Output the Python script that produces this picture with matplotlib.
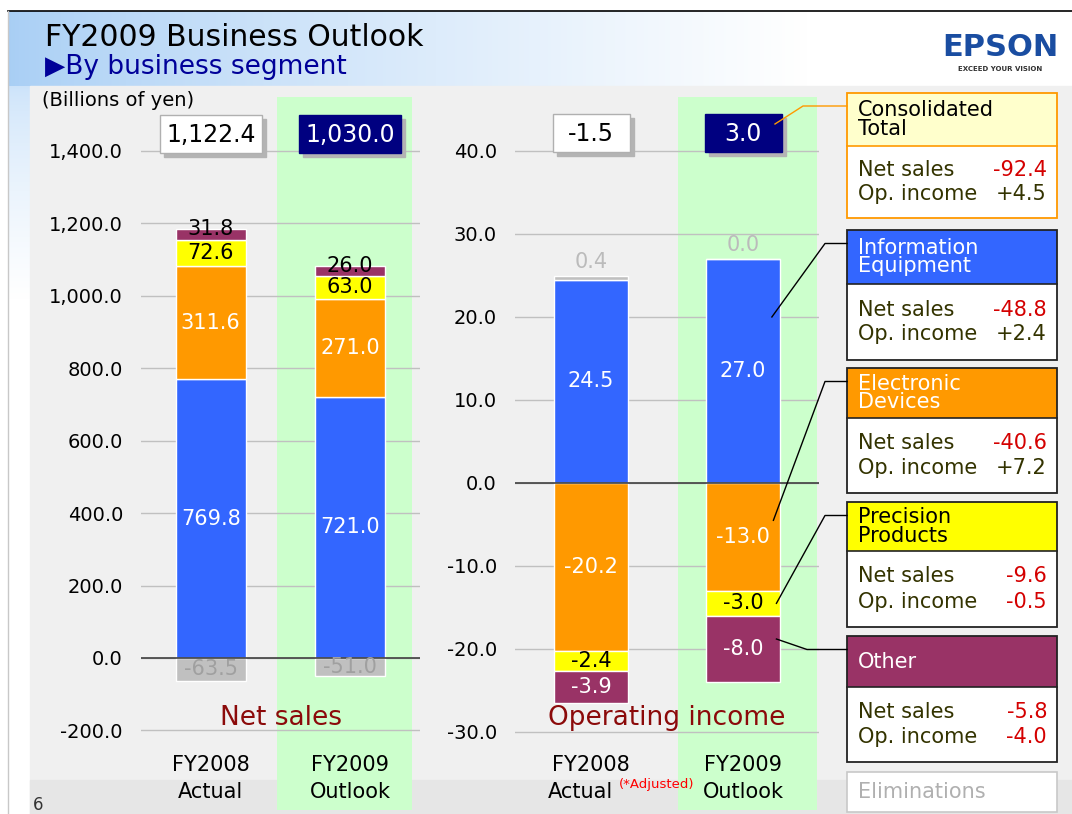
import numpy as np
import matplotlib
matplotlib.use('Agg')
import matplotlib.pyplot as plt
import matplotlib.transforms as mtransforms
from matplotlib.patches import Rectangle
from matplotlib.ticker import FuncFormatter

# Figure size in pixels
W, H = 1072, 814

# Data (billions of yen)
periods = [("FY2008", "Actual"), ("FY2009", "Outlook")]
segments = ["Information Equipment", "Electronic Devices", "Precision Products", "Other", "Eliminations"]

sales_info = [769.8, 721.0]
sales_elec = [311.6, 271.0]
sales_prec = [72.6, 63.0]
sales_other = [31.8, 26.0]
sales_elim = [-63.5, -51.0]
sales_total = [1122.4, 1030.0]

op_info = [24.5, 27.0]
op_elec = [-20.2, -13.0]
op_prec = [-2.4, -3.0]
op_other = [-3.9, -8.0]
op_elim = [0.4, 0.0]
op_total = [-1.5, 3.0]

sales_ticks = [-200, 0, 200, 400, 600, 800, 1000, 1200, 1400]
op_ticks = [-30, -20, -10, 0, 10, 20, 30, 40]

# Change vs previous year, shown in the right-hand panel
panel_names = ["Consolidated\nTotal", "Information\nEquipment", "Electronic\nDevices",
               "Precision\nProducts", "Other"]
panel_sales = [-92.4, -48.8, -40.6, -9.6, -5.8]
panel_op = [4.5, 2.4, 7.2, -0.5, -4.0]

# Styles
SEG_COLORS = ['#3366FF', '#FF9900', '#FFFF00', '#993366', '#C0C0C0']
LABEL_COLORS = ['white', 'white', 'black', 'white', '#A0A0A0']
HEADER_COLORS = ['#FFFFCC', '#3366FF', '#FF9900', '#FFFF00', '#993366']
HEADER_TEXT = ['black', 'white', 'white', 'black', 'white']
BORDER_COLORS = ['#FF9900', '#222222', '#222222', '#222222', '#222222']
GREEN_BAND = '#CCFFCC'
NAVY = '#000080'
DARK_RED = '#8B0A0A'
BODY_TEXT = '#333300'

fig = plt.figure(figsize=(W / 100, H / 100), dpi=100)

# Background layer in pixel coordinates
bg = fig.add_axes([0, 0, 1, 1], zorder=0)
bg.set_xlim(0, W)
bg.set_ylim(H, 0)
bg.axis('off')

t = np.clip(np.linspace(0, 1, 400) / 0.75, 0, 1) ** 0.8
left_c = np.array([0.66, 0.81, 0.96])
grad = left_c[None, :] + (1 - left_c[None, :]) * t[:, None]
bg.imshow(grad[None, :, :], extent=(8, W, 86, 11), aspect='auto', zorder=0)
v = np.linspace(0, 1, 100) ** 0.7
vgrad = np.array([0.80, 0.89, 0.98])[None, :] + (1 - np.array([0.80, 0.89, 0.98]))[None, :] * v[:, None]
bg.imshow(vgrad[:, None, :], extent=(8, 30, 300, 86), aspect='auto', zorder=0)
bg.add_patch(Rectangle((30, 86), W - 30, H - 86, color='#F0F0F0', zorder=1))
bg.add_patch(Rectangle((30, 780), W - 30, H - 780, color='#E6E6E6', zorder=1))
bg.plot([8, W], [11, 11], color='black', lw=1.2, zorder=2)
bg.plot([8, 8], [11, H], color='#C8C8C8', lw=1, zorder=2)

bg.text(45, 38, "FY2009 Business Outlook", fontsize=21.5, va='center', ha='left', color='black', zorder=3)
bg.text(45, 67, "\u25B6By business segment", fontsize=19, va='center', ha='left', color='#000099', zorder=3)
bg.text(42, 100, "(Billions of yen)", fontsize=14, va='center', ha='left', color='black', zorder=3)
bg.text(33, 796, "6", fontsize=12, va='top', ha='left', color='#333333', zorder=3)

# EPSON logo
bg.text(1000, 48, "EPSON", fontsize=22, fontweight='heavy', color='#1A4DA1', ha='center', va='center', zorder=3)
bg.text(1000, 69, "EXCEED YOUR VISION", fontsize=5, fontweight='bold', color='#333333', ha='center', va='center', zorder=3)


def make_chart(rect, ylim, ticks, fmt, band):
    ax = fig.add_axes([rect[0] / W, 1 - rect[3] / H, (rect[2] - rect[0]) / W, (rect[3] - rect[1]) / H], zorder=1)
    ax.set_facecolor('none')
    ax.set_xlim(-0.5, 1.5)
    ax.set_ylim(*ylim)
    ax.set_yticks(ticks)
    ax.yaxis.set_major_formatter(FuncFormatter(fmt))
    ax.set_xticks([])
    ax.tick_params(axis='y', length=0, pad=13, labelsize=14, colors='black')
    for s in ax.spines.values():
        s.set_visible(False)
    ax.yaxis.grid(True, color='#C0C0C0', lw=1, zorder=0.5)
    ax.set_axisbelow(True)
    ax.axvspan(band[0], band[1], color=GREEN_BAND, zorder=0.2, lw=0)
    ax.axhline(0, color='#404040', lw=1.2, zorder=3)
    return ax


def draw_stack(ax, series, width):
    x = np.arange(len(periods))
    pos = np.zeros(len(x))
    neg = np.zeros(len(x))
    for i, vals in enumerate(series):
        vals = np.array(vals, dtype=float)
        bottom = np.where(vals >= 0, pos, neg)
        ax.bar(x, vals, width=width, bottom=bottom, color=SEG_COLORS[i],
               edgecolor='white', lw=1, zorder=2)
        for j, val in enumerate(vals):
            top = bottom[j] + val
            ph = abs(ax.transData.transform((0, val))[1] - ax.transData.transform((0, 0))[1])
            txt = f"{val:.1f}"
            if i == 4 and ph < 12:
                ax.annotate(txt, (x[j], top), xytext=(0, 3), textcoords='offset points',
                            ha='center', va='bottom', fontsize=15, color='#BBBBBB', zorder=4)
            elif ph < 14:
                ax.text(x[j], top, txt, ha='center', va='center', fontsize=15, color='black', zorder=4)
            else:
                ax.text(x[j], bottom[j] + val / 2, txt, ha='center', va='center', fontsize=15,
                        color=LABEL_COLORS[i], zorder=4)
        pos = np.where(vals >= 0, pos + vals, pos)
        neg = np.where(vals < 0, neg + vals, neg)


def period_labels(ax, title, shift=(0, 0)):
    trans = mtransforms.blended_transform_factory(ax.transData, ax.transAxes)
    for j, (yr, kind) in enumerate(periods):
        ax.text(j, 0.063, yr, transform=trans, ha='center', va='center', fontsize=15,
                color='black', zorder=4)
        ax.text(j + shift[j], 0.025, kind, transform=trans, ha='center', va='center', fontsize=15,
                color='black', zorder=4)
    ax.text(0.5, 0.129, title, transform=ax.transAxes, ha='center', va='center',
            fontsize=19, color=DARK_RED, zorder=4)


# Net sales chart
ax1 = make_chart((141, 97, 420, 810), (-419.7, 1549.0), sales_ticks,
                 lambda v, p: f"{v:,.1f}", (0.475, 1.446))
draw_stack(ax1, [sales_info, sales_elec, sales_prec, sales_other, sales_elim], 0.5)
period_labels(ax1, "Net sales")

# Operating income chart
ax2 = make_chart((515, 97, 819, 810), (-39.4, 46.5), op_ticks,
                 lambda v, p: f"{v:.1f}", (0.572, 1.49))
draw_stack(ax2, [op_info, op_elec, op_prec, op_other, op_elim], 0.49)
period_labels(ax2, "Operating income", shift=(-0.07, 0))
trans2 = mtransforms.blended_transform_factory(ax2.transData, ax2.transAxes)
ax2.text(0.185, 0.036, "(*Adjusted)", transform=trans2, ha='left', va='center',
         fontsize=9.5, color='#FF0000', zorder=4)

# Overlay layer in pixel coordinates
ov = fig.add_axes([0, 0, 1, 1], zorder=3)
ov.set_facecolor('none')
ov.set_xlim(0, W)
ov.set_ylim(H, 0)
ov.axis('off')


def to_px(ax, x, y):
    px, py = ax.transData.transform((x, y))
    return px, H - py


def total_box(ax, xpos, value, y, w, dark, fmt):
    px, _ = to_px(ax, xpos, 0)
    h = 38
    ov.add_patch(Rectangle((px - w / 2 + 4, y - h / 2 + 4), w, h, color='#B4B4B4', zorder=1))
    ov.add_patch(Rectangle((px - w / 2, y - h / 2), w, h, facecolor=NAVY if dark else 'white',
                           edgecolor=NAVY if dark else '#B0B0B0', lw=1, zorder=2))
    ov.text(px, y + 1, fmt(value), ha='center', va='center', fontsize=17,
            color='white' if dark else 'black', zorder=3)
    return px


for j, val in enumerate(sales_total):
    total_box(ax1, j, val, 134, 102, j == 1, lambda v: f"{v:,.1f}")
box_r = [total_box(ax2, j, val, 133, 77, j == 1, lambda v: f"{v:.1f}") for j, val in enumerate(op_total)]

# Right-hand panel of changes
BX0, BX1 = 847, 1057
tops = [93, 230, 368, 502, 636]
heads = [146, 284, 418, 551, 687]
bottoms = [218, 360, 493, 627, 762]
for k, name in enumerate(panel_names):
    ov.add_patch(Rectangle((BX0, tops[k]), BX1 - BX0, heads[k] - tops[k],
                           facecolor=HEADER_COLORS[k], edgecolor='none', zorder=1))
    ov.add_patch(Rectangle((BX0, heads[k]), BX1 - BX0, bottoms[k] - heads[k],
                           facecolor='white', edgecolor='none', zorder=1))
    ov.add_patch(Rectangle((BX0, tops[k]), BX1 - BX0, bottoms[k] - tops[k],
                           facecolor='none', edgecolor=BORDER_COLORS[k], lw=1.3, zorder=2))
    ov.plot([BX0, BX1], [heads[k], heads[k]], color=BORDER_COLORS[k], lw=1.2, zorder=2)
    ov.text(858, (tops[k] + heads[k]) / 2, name, ha='left', va='center', fontsize=15,
            linespacing=0.92, color=HEADER_TEXT[k], zorder=3)
    mid = (heads[k] + bottoms[k]) / 2
    for row, (lab, val) in enumerate([("Net sales", panel_sales[k]), ("Op. income", panel_op[k])]):
        yy = mid - 12.5 + 25 * row
        ov.text(858, yy, lab, ha='left', va='center', fontsize=15, color=BODY_TEXT, zorder=3)
        ov.text(1047, yy, f"{val:+.1f}", ha='right', va='center', fontsize=15,
                color='#D40000' if val < 0 else BODY_TEXT, zorder=3)

ov.add_patch(Rectangle((BX0, 772), BX1 - BX0, 40, facecolor='white', edgecolor='#C8C8C8', lw=1.2, zorder=1))
ov.text(858, 792, "Eliminations", ha='left', va='center', fontsize=15, color='#B0B0B0', zorder=3)

# Connector lines from the panel to the bars
ov.plot([BX0, 803, box_r[1] + 32], [106, 106, 124], color='#FF9900', lw=1, zorder=4)
ends = [to_px(ax2, 1.19, 20.0), to_px(ax2, 1.2, -4.5), to_px(ax2, 1.22, -14.5), to_px(ax2, 1.22, -18.8)]
elbows = [825, 825, 825, 807]
for k in range(4):
    y0 = tops[k + 1] + 13.5
    ov.plot([BX0, elbows[k], ends[k][0]], [y0, y0, ends[k][1]], color='black', lw=1, zorder=4)

fig.savefig("out.png", dpi=100)
